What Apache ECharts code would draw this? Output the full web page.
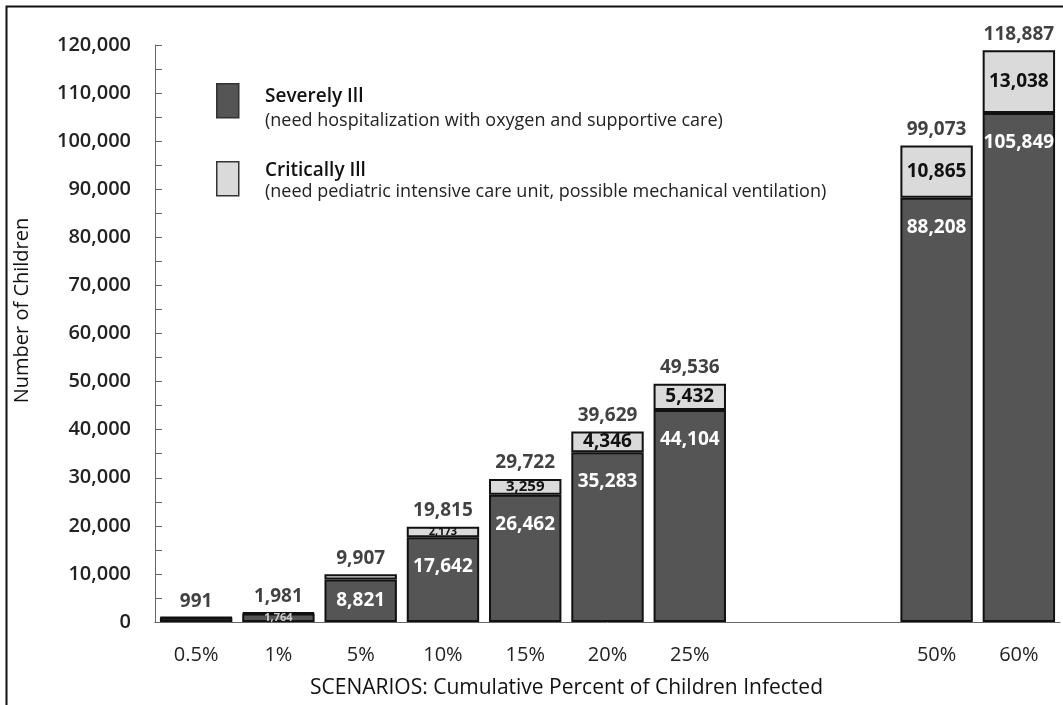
<!DOCTYPE html>
<html>
<head>
<meta charset="utf-8">
<script src="https://cdn.jsdelivr.net/npm/echarts@6/dist/echarts.min.js"></script>
<style>
html,body{margin:0;padding:0;background:#fff;}
#chart{width:1063px;height:705px;}
</style>
</head>
<body>
<div id="chart"></div>
<script>
// ---- data ----
const categories = ['0.5%', '1%', '5%', '10%', '15%', '20%', '25%', '', '', '50%', '60%'];
const severelyIll = [882, 1764, 8821, 17642, 26462, 35283, 44104, null, null, 88208, 105849];
const criticallyIll = [109, 217, 1086, 2173, 3259, 4346, 5432, null, null, 10865, 13038];
const totals = [991, 1981, 9907, 19815, 29722, 39629, 49536, null, null, 99073, 118887];
const yTicks = { min: 0, max: 120000, step: 10000 };
const legendNames = ['Severely Ill', 'Critically Ill'];
const legendNotes = [
  '(need hospitalization with oxygen and supportive care)',
  '(need pediatric intensive care unit, possible mechanical ventilation)'
];

const FONT = '"Open Sans", "Noto Sans", sans-serif';
const fmt = v => Number(v).toLocaleString('en-US');
const valFmt = p => fmt(p.value);

function severeLabel(v) {
  if (v == null) return { show: false };
  if (v >= 15000) return { show: true, position: 'insideTop', distance: 20, color: '#fff', fontSize: 19, fontWeight: 'bold', fontFamily: FONT, formatter: valFmt };
  if (v >= 5000) return { show: true, position: 'inside', color: '#fff', fontSize: 19, fontWeight: 'bold', fontFamily: FONT, formatter: valFmt };
  if (v >= 1000) return { show: true, position: 'inside', color: '#cfcfcf', fontSize: 11, fontWeight: 'bold', fontFamily: FONT, formatter: valFmt };
  return { show: false };
}
function criticalLabel(v) {
  if (v == null) return { show: false };
  let size = 0;
  if (v >= 4000) size = 19; else if (v >= 3000) size = 15; else if (v >= 2000) size = 11;
  if (!size) return { show: false };
  return { show: true, position: 'inside', color: '#111', fontSize: size, lineHeight: size, fontWeight: 'bold', fontFamily: FONT, formatter: valFmt };
}

const chart = echarts.init(document.getElementById('chart'), null, { renderer: 'canvas' });

const barBorder = { borderColor: '#111', borderWidth: 2 };
const titleStyle = { fontFamily: FONT, fontSize: 19, fontWeight: 600, fill: '#111', verticalAlign: 'middle' };
const noteStyle = { fontFamily: FONT, fontSize: 18, fill: '#222', verticalAlign: 'middle' };

chart.setOption({
  backgroundColor: '#fff',
  animation: false,
  textStyle: { fontFamily: FONT },
  grid: { left: 155, right: 3, top: 45, bottom: 83, containLabel: false },
  legend: {
    show: true,
    orient: 'vertical',
    left: 216,
    top: 83,
    padding: 0,
    icon: 'rect',
    itemWidth: 22,
    itemHeight: 34,
    itemGap: 42.5,
    selectedMode: false,
    data: legendNames,
    formatter: () => ' ',
    itemStyle: { borderColor: '#333', borderWidth: 1.5 },
    textStyle: { fontSize: 10 }
  },
  graphic: [
    { type: 'polyline', shape: { points: [[6.5, 705], [6.5, 6.5], [1063, 6.5]] }, style: { stroke: '#111', lineWidth: 2, fill: null } },
    { type: 'text', x: 265, y: 97, style: Object.assign({ text: legendNames[0] }, titleStyle) },
    { type: 'text', x: 265, y: 121, style: Object.assign({ text: legendNotes[0] }, noteStyle) },
    { type: 'text', x: 265, y: 171, style: Object.assign({ text: legendNames[1] }, titleStyle) },
    { type: 'text', x: 265, y: 192, style: Object.assign({ text: legendNotes[1] }, noteStyle) }
  ],
  xAxis: {
    type: 'category',
    data: categories,
    axisTick: { show: false },
    axisLine: { lineStyle: { color: '#666', width: 1 } },
    axisLabel: { fontFamily: FONT, fontSize: 20, color: '#222', margin: 23, interval: 0 },
    name: 'SCENARIOS: Cumulative Percent of Children Infected',
    nameLocation: 'middle',
    nameGap: 56,
    nameTextStyle: { fontFamily: FONT, fontSize: 21, color: '#111', padding: [0, 82, 0, 0] }
  },
  yAxis: {
    type: 'value',
    min: yTicks.min,
    max: yTicks.max,
    interval: yTicks.step,
    axisLine: { show: true, lineStyle: { color: '#666', width: 1 } },
    axisTick: { show: true, inside: true, length: 7, lineStyle: { color: '#666' } },
    minorTick: { show: true, splitNumber: 2, length: 7, lineStyle: { color: '#666' } },
    splitLine: { show: false },
    axisLabel: { fontFamily: FONT, fontSize: 20, fontWeight: 600, color: '#222', margin: 24, formatter: v => fmt(v) },
    name: 'Number of Children',
    nameLocation: 'middle',
    nameGap: 123,
    nameRotate: 90,
    nameTextStyle: { fontFamily: FONT, fontSize: 20, color: '#111', padding: [0, 0, 0, 46] }
  },
  series: [
    {
      name: legendNames[0],
      type: 'bar',
      stack: 'total',
      barWidth: '88%',
      itemStyle: Object.assign({ color: '#555555' }, barBorder),
      data: severelyIll.map(v => ({ value: v, label: severeLabel(v) }))
    },
    {
      name: legendNames[1],
      type: 'bar',
      stack: 'total',
      barWidth: '88%',
      itemStyle: Object.assign({ color: '#dadada' }, barBorder),
      data: criticallyIll.map(v => ({ value: v, label: criticalLabel(v) }))
    },
    {
      name: 'Total',
      type: 'scatter',
      symbolSize: 1,
      itemStyle: { color: 'rgba(0,0,0,0)' },
      silent: true,
      data: totals,
      label: {
        show: true, position: 'top', distance: 6,
        fontFamily: FONT, fontSize: 19, fontWeight: 'bold', color: '#111',
        formatter: valFmt
      }
    }
  ]
});
</script>
</body>
</html>
